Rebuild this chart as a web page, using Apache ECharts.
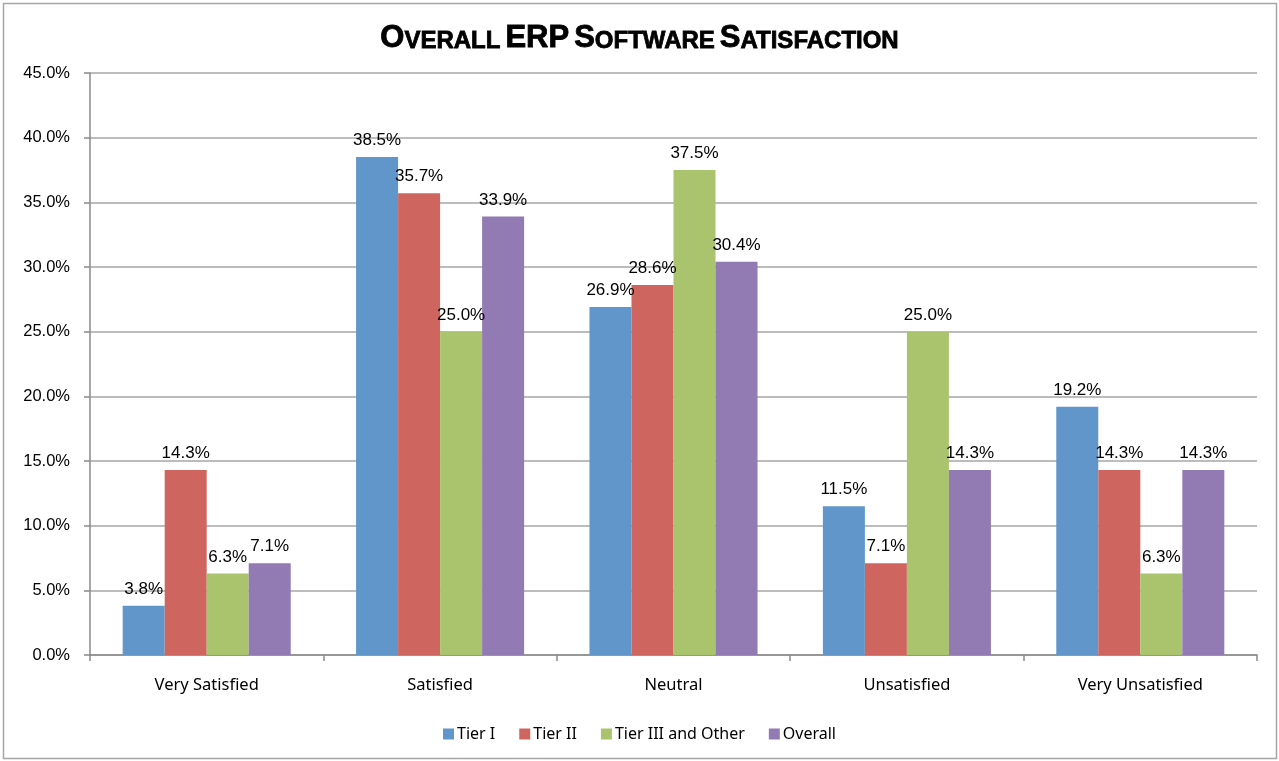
<!DOCTYPE html>
<html>
<head>
<meta charset="utf-8">
<script src="https://cdn.jsdelivr.net/npm/echarts@6/dist/echarts.min.js"></script>
<style>
html, body { margin: 0; padding: 0; background: #fff; }
#chart { width: 1279px; height: 761px; }
</style>
</head>
<body>
<div id="chart"></div>
<script>
// categories and values (percent)
const categories = ['Very Satisfied', 'Satisfied', 'Neutral', 'Unsatisfied', 'Very Unsatisfied']
const tier1 = [3.8, 38.5, 26.9, 11.5, 19.2]
const tier2 = [14.3, 35.7, 28.6, 7.1, 14.3]
const tier3 = [6.3, 25.0, 37.5, 25.0, 6.3]
const overall = [7.1, 33.9, 30.4, 14.3, 14.3]
const seriesNames = ['Tier I', 'Tier II', 'Tier III and Other', 'Overall']
const colors = ['#6096c9', '#ce665f', '#aac46d', '#927ab3']

const myChart = echarts.init(document.getElementById('chart'))

function makeSeries (name, data, color) {
  return {
    name: name,
    type: 'bar',
    barGap: '0%',
    barCategoryGap: '28%',
    itemStyle: { color: color },
    label: {
      show: true,
      position: 'top',
      distance: 8,
      color: '#000',
      fontFamily: 'Liberation Sans',
      fontSize: 17,
      formatter: p => p.value.toFixed(1) + '%'
    },
    data: data
  }
}

// small caps title: big letters and small letters share a baseline
const titleBig = { fontFamily: 'Liberation Sans', fontWeight: 'bold', fontSize: 31, color: '#000', verticalAlign: 'bottom', textBorderColor: '#000', textBorderWidth: 0.8 }
const titleSmall = { fontFamily: 'Liberation Sans', fontWeight: 'bold', fontSize: 24, color: '#000', verticalAlign: 'bottom', textBorderColor: '#000', textBorderWidth: 0.8, padding: [0, 0, 1, 0] }

const option = {
  backgroundColor: '#fff',
  animation: false,
  title: {
    text: '{b|O}{s|VERALL} {b|ERP} {b|S}{s|OFTWARE} {b|S}{s|ATISFACTION}',
    left: 'center',
    top: 18,
    textStyle: {
      rich: { b: titleBig, s: titleSmall }
    }
  },
  legend: {
    data: seriesNames,
    bottom: 14,
    left: 'center',
    itemWidth: 11,
    itemHeight: 11,
    itemGap: 24,
    icon: 'rect',
    textStyle: { fontFamily: 'Noto Sans', fontSize: 16, color: '#000', padding: [0, 0, 0, -2] }
  },
  grid: {
    left: 90,
    right: 22,
    top: 73,
    bottom: 106
  },
  xAxis: {
    type: 'category',
    data: categories,
    axisLine: { lineStyle: { color: '#8a8a8a', width: 1.5 } },
    axisTick: { show: true, length: 6, lineStyle: { color: '#8a8a8a', width: 1.5 } },
    axisLabel: { margin: 22, color: '#000', fontFamily: 'Noto Sans', fontSize: 16.5 }
  },
  yAxis: {
    type: 'value',
    min: 0,
    max: 45,
    interval: 5,
    axisLine: { show: true, lineStyle: { color: '#8a8a8a', width: 1.5 } },
    axisTick: { show: true, length: 6, lineStyle: { color: '#8a8a8a', width: 1.5 } },
    splitLine: { show: true, lineStyle: { color: '#a6a6a6', width: 1.5 } },
    axisLabel: {
      margin: 20,
      color: '#000',
      fontFamily: 'Liberation Sans',
      fontSize: 16.5,
      formatter: v => v.toFixed(1) + '%'
    }
  },
  graphic: [{
    type: 'rect',
    shape: { x: 3.5, y: 3.5, width: 1273, height: 755 },
    style: { fill: 'none', stroke: '#a6a6a6', lineWidth: 1.5 },
    silent: true
  }],
  series: [
    makeSeries(seriesNames[0], tier1, colors[0]),
    makeSeries(seriesNames[1], tier2, colors[1]),
    makeSeries(seriesNames[2], tier3, colors[2]),
    makeSeries(seriesNames[3], overall, colors[3])
  ]
}

myChart.setOption(option)
window.addEventListener('resize', () => {
  myChart.resize()
})
</script>
</body>
</html>
